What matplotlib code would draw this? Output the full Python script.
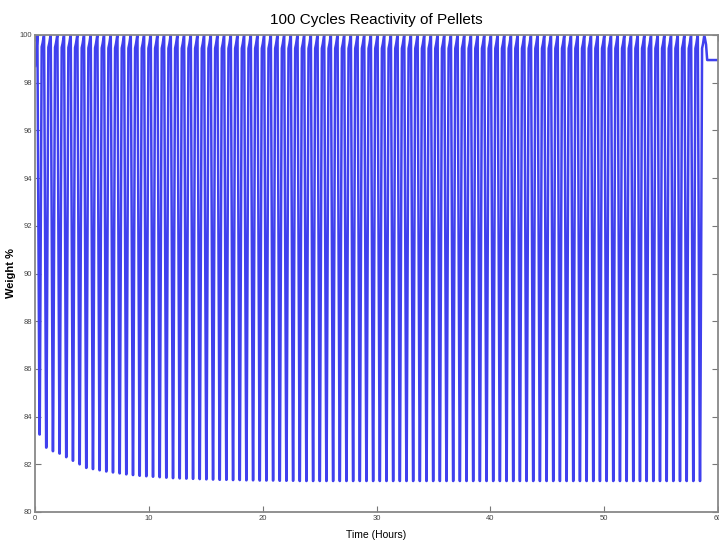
import matplotlib
matplotlib.use('Agg')
import matplotlib.pyplot as plt
import numpy as np

plt.rcParams['font.family'] = ['Liberation Sans', 'DejaVu Sans']

title = '100 Cycles Reactivity of Pellets'
xlabel = 'Time (Hours)'
ylabel = 'Weight %'

# start of run (before first cycle)
start_t = [0.0, 0.08, 0.16]
start_w = [98.7, 99.3, 99.6]

first_cycle_t = 0.2     # hours
cycle_period = 0.586    # hours

# one cycle, as fraction of period / fraction of the drop (100 -> minimum)
shape_t = [0.0, 0.02, 0.33, 0.37, 0.66, 0.80, 1.0]
shape_drop = [0.0, 0.0, 1.0, 1.0, 0.03, 0.02, 0.0]

# minimum weight of each of the 100 cycles
cycle_min = [83.25, 82.7, 82.55, 82.45, 82.3, 82.15, 82.0, 81.85, 81.8, 81.75,
             81.7, 81.66, 81.62, 81.58, 81.55, 81.52, 81.5, 81.48, 81.46, 81.44,
             81.42, 81.41, 81.4, 81.39, 81.38, 81.37, 81.36, 81.35, 81.35, 81.34,
             81.34, 81.33, 81.33, 81.32, 81.32, 81.32, 81.31, 81.31, 81.31, 81.3,
             81.3, 81.3, 81.3, 81.3, 81.3, 81.3, 81.3, 81.3, 81.3, 81.3,
             81.3, 81.3, 81.3, 81.3, 81.3, 81.3, 81.3, 81.3, 81.3, 81.3,
             81.3, 81.3, 81.3, 81.3, 81.3, 81.3, 81.3, 81.3, 81.3, 81.3,
             81.3, 81.3, 81.3, 81.3, 81.3, 81.3, 81.3, 81.3, 81.3, 81.3,
             81.3, 81.3, 81.3, 81.3, 81.3, 81.3, 81.3, 81.3, 81.3, 81.3,
             81.3, 81.3, 81.3, 81.3, 81.3, 81.3, 81.3, 81.3, 81.3, 81.3]

# tail after the last cycle
end_t = [58.95, 59.05, 60.0]
end_w = [99.6, 98.95, 98.95]

t = list(start_t)
w = list(start_w)
for k, m in enumerate(cycle_min):
    t0 = first_cycle_t + k * cycle_period
    for st, sd in zip(shape_t, shape_drop):
        t.append(t0 + st * cycle_period)
        w.append(100 - sd * (100 - m))
t += end_t
w += end_w

fig = plt.figure(figsize=(7.19, 5.45), dpi=100)
ax = fig.add_axes([35/719, 33/545, 683/719, 477/545])

ax.plot(t, w, color='#4040ee', lw=1.8)

ax.set_xlim(0, 60)
ax.set_ylim(80, 100)
ax.set_xticks(np.arange(0, 61, 10))
ax.set_yticks(np.arange(80, 101, 2))
ax.tick_params(direction='in', length=4, width=0.8, color='#777777',
               labelsize=5.5, labelcolor='#444444', right=True, top=True, pad=2)
for s in ax.spines.values():
    s.set_color('#888888')
    s.set_linewidth(1.3)

ax.set_title(title, fontsize=11, pad=8)
ax.set_xlabel(xlabel, fontsize=7.5, labelpad=6)
ax.set_ylabel(ylabel, fontsize=8, fontweight='bold', labelpad=3)

plt.savefig('out.png', dpi=100)
